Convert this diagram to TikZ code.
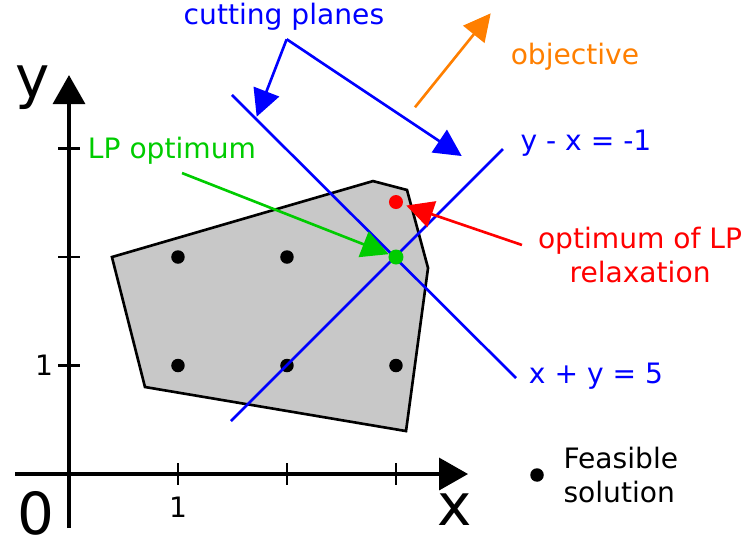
\documentclass[tikz,border=0pt]{standalone}
\usepackage{fontspec}
\setmainfont{DejaVu Sans}
\usetikzlibrary{arrows.meta}
\definecolor{lpgreen}{RGB}{0,204,0}
\definecolor{objorange}{RGB}{255,127,0}
\definecolor{regiongray}{RGB}{200,200,200}

\begin{document}
\begin{tikzpicture}[
        x=2.18cm, y=2.17cm,
        font=\fontsize{16}{19}\selectfont,
        big/.style={font=\fontsize{33}{36}\selectfont, inner sep=0pt},
        axis/.style={line width=2pt, -{Triangle[length=0.58cm, width=0.64cm]}},
        ticks/.style={line width=1.5pt},
        cut/.style={blue, line width=1.5pt},
        pointer/.style={line width=1.5pt, -{Triangle[length=0.54cm, width=0.54cm]}},
        lattice/.style={circle, fill, inner sep=0pt, minimum size=0.27cm}
    ]
        \useasboundingbox (-0.633,-0.645) rectangle (6.202,4.369);

        % feasible region of the LP relaxation
        \draw[fill=regiongray, line width=1.5pt]
            (0.394,2.0) -- (2.789,2.70) -- (3.101,2.618) -- (3.294,1.899)
            -- (3.092,0.396) -- (0.697,0.802) -- cycle;

        % axes
        \coordinate (xstart) at (-0.495,0);
        \coordinate (xend) at (3.661,0);
        \coordinate (ystart) at (0,-0.498);
        \coordinate (yend) at (0,3.677);
        \draw[axis] (xstart) -- (xend);
        \draw[axis] (ystart) -- (yend);
        \foreach \i in {1,2,3} {
            \draw[ticks] (\i,-0.1) -- (\i,0.1);
            \draw[ticks] (-0.1,\i) -- (0.1,\i);
        }
        \node[big] (xlabel) at (3.541,-0.332) {x};
        \node[big] (ylabel) at (-0.330,3.558) {y};
        \node[big] (zero) at (-0.303,-0.36) {0};
        \node (xone) at (1,-0.304) {1};
        \node (yone) at (-0.229,1.005) {1};

        % integer points
        \node[lattice] (p11) at (1,1) {};
        \node[lattice] (p21) at (2,1) {};
        \node[lattice] (p31) at (3,1) {};
        \node[lattice] (p12) at (1,2) {};
        \node[lattice] (p22) at (2,2) {};

        % cutting planes
        \coordinate (c1a) at (1.495,3.493);
        \coordinate (c1b) at (4.101,0.885);
        \coordinate (c2a) at (1.486,0.488);
        \coordinate (c2b) at (3.982,2.995);
        \draw[cut] (c1a) -- (c1b);
        \draw[cut] (c2a) -- (c2b);
        \node[blue] (sumlabel) at (4.835,0.903) {x + y = 5};
        \node[blue] (difflabel) at (4.743,3.051) {y - x = -1};

        % optima
        \node[lattice, fill=lpgreen, minimum size=0.3cm] (lpopt) at (3,2) {};
        \node[lattice, fill=red, minimum size=0.28cm] (relopt) at (3,2.507) {};

        % cutting planes pointer
        \node[blue] (cutlabel) at (1.972,4.212) {cutting planes};
        \coordinate (cutfrom) at (1.997,4.007);
        \coordinate (cutleft) at (1.722,3.293);
        \coordinate (cutright) at (3.603,2.931);
        \draw[pointer, blue] (cutfrom) -- (cutleft);
        \draw[pointer, blue] (cutfrom) -- (cutright);

        % objective direction
        \coordinate (objfrom) at (3.174,3.380);
        \coordinate (objto) at (3.869,4.246);
        \draw[pointer, objorange] (objfrom) -- (objto);
        \node[objorange] (objlabel) at (4.642,3.843) {objective};

        % LP optimum
        \node[lpgreen] (lplabel) at (0.945,2.977) {LP optimum};
        \coordinate (lpfrom) at (1.037,2.774);
        \draw[pointer, lpgreen] (lpfrom) -- (lpopt);

        % optimum of the relaxation
        \node[red, align=center] (rellabel) at (5.239,2.018) {optimum of LP\\relaxation};
        \coordinate (relfrom) at (4.156,2.111);
        \draw[pointer, red, shorten >=2pt] (relfrom) -- (relopt);

        % legend
        \node[lattice] (legdot) at (4.294,-0.009) {};
        \node[align=left, anchor=west] (legtext) at (4.48,-0.009) {Feasible\\solution};
    \end{tikzpicture}
\end{document}
